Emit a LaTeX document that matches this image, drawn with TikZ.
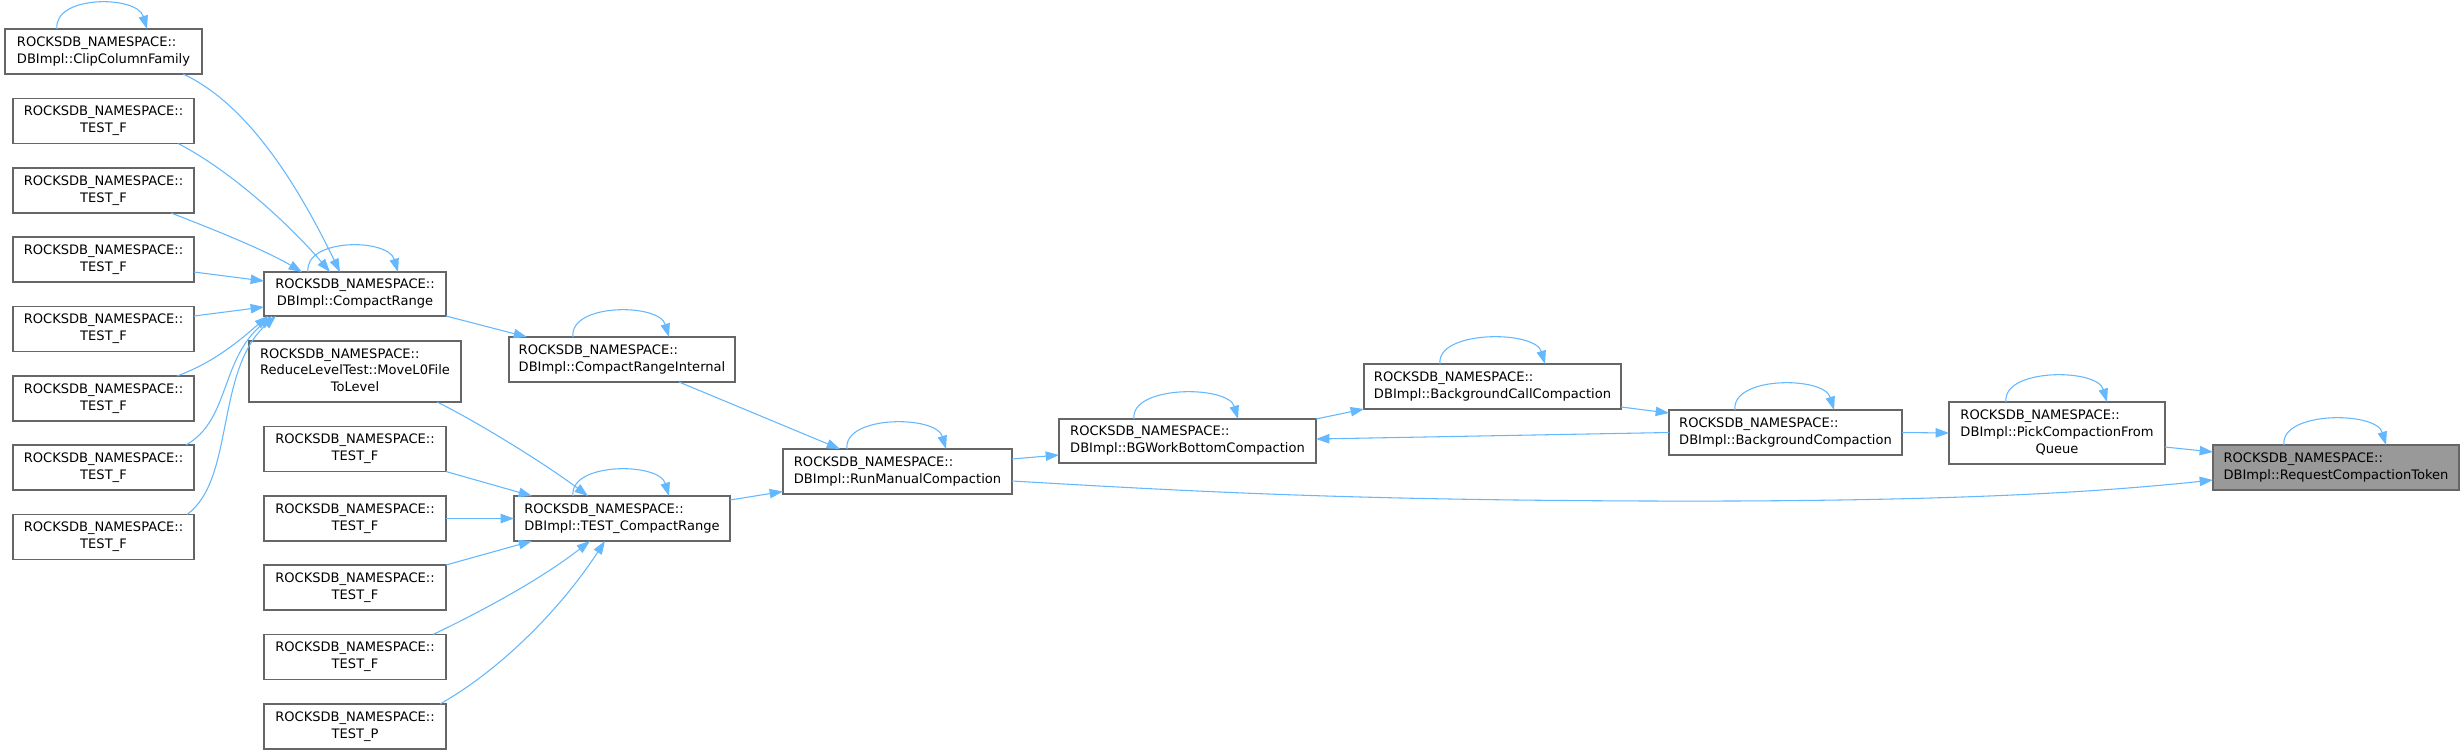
\documentclass[tikz,border=0pt]{standalone}
\usepackage{fontspec}
\setmainfont{DejaVu Sans}
\usetikzlibrary{arrows.meta,calc}
\definecolor{edgec}{HTML}{63B8FF}
\definecolor{boxc}{HTML}{666666}
\definecolor{hlc}{HTML}{999999}
\newcommand\dxl[2]{\begin{tabular}{@{}l@{}}#1\\\multicolumn{1}{@{}c@{}}{#2}\end{tabular}}
\newcommand\dxlt[3]{\begin{tabular}{@{}l@{}}#1\\#2\\\multicolumn{1}{@{}c@{}}{#3}\end{tabular}}
\newcommand\rns{ROCKSDB\_NAMESPACE::}
\newcommand\dxloop[3]{\draw[e] ($(#1.north west)+(#2,0)$) .. controls +(-4,-34) and +(-10,-34) .. ($(#1.north west)+(#3,0)$);}
\begin{document}
\begin{tikzpicture}[x=0.75pt,y=-0.75pt,
  fn/.style={draw=boxc, line width=0.85pt, fill=white, inner sep=0pt, outer sep=0pt,
    font=\fontsize{9.8pt}{12.6pt}\selectfont, text=black},
  sz/.style 2 args={minimum width=#1*0.75pt, minimum height=#2*0.75pt},
  e/.style={draw=edgec, line width=0.8pt, -{Triangle[length=10pt,width=7pt]}}]
\fill[white] (0,0) rectangle (2464,754);
\useasboundingbox (0,0) rectangle (2464,754);

% left column
\node[fn,sz={197}{45}] (clip) at (103.5,51.5) {\dxl{\rns}{DBImpl::ClipColumnFamily}};
\node[fn,sz={181}{45}] (tf1) at (103.5,121) {\dxl{\rns}{TEST\_F}};
\node[fn,sz={181}{45}] (tf2) at (103.5,190.5) {\dxl{\rns}{TEST\_F}};
\node[fn,sz={181}{45}] (tf3) at (103.5,259.5) {\dxl{\rns}{TEST\_F}};
\node[fn,sz={181}{45}] (tf4) at (103.5,329) {\dxl{\rns}{TEST\_F}};
\node[fn,sz={181}{45}] (tf5) at (103.5,398.5) {\dxl{\rns}{TEST\_F}};
\node[fn,sz={181}{45}] (tf6) at (103.5,467.5) {\dxl{\rns}{TEST\_F}};
\node[fn,sz={181}{45}] (tf7) at (103.5,537) {\dxl{\rns}{TEST\_F}};

% second column
\node[fn,sz={182}{44}] (cr) at (355,294) {\dxl{\rns}{DBImpl::CompactRange}};
\node[fn,sz={212}{61}] (rl) at (355,371.5) {\dxlt{\rns}{ReduceLevelTest::MoveL0File}{ToLevel}};
\node[fn,sz={182}{45}] (ta) at (355,449) {\dxl{\rns}{TEST\_F}};
\node[fn,sz={182}{45}] (tb) at (355,518.5) {\dxl{\rns}{TEST\_F}};
\node[fn,sz={182}{45}] (tc) at (355,587.5) {\dxl{\rns}{TEST\_F}};
\node[fn,sz={182}{45}] (td) at (355,657) {\dxl{\rns}{TEST\_F}};
\node[fn,sz={182}{45}] (tp) at (355,726.5) {\dxl{\rns}{TEST\_P}};

% third column
\node[fn,sz={226}{45}] (cri) at (622,359.5) {\dxl{\rns}{DBImpl::CompactRangeInternal}};
\node[fn,sz={216}{45}] (tcr) at (622,518.5) {\dxl{\rns}{DBImpl::TEST\_CompactRange}};

% chain
\node[fn,sz={229}{45}] (rmc) at (897.5,471.5) {\dxl{\rns}{DBImpl::RunManualCompaction}};
\node[fn,sz={257}{44}] (bgw) at (1187.5,441) {\dxl{\rns}{DBImpl::BGWorkBottomCompaction}};
\node[fn,sz={257}{45}] (bcc) at (1492.5,386.5) {\dxl{\rns}{DBImpl::BackgroundCallCompaction}};
\node[fn,sz={233}{45}] (bc) at (1785.5,432.5) {\dxl{\rns}{DBImpl::BackgroundCompaction}};
\node[fn,sz={216}{62}] (pcq) at (2057,433) {\dxlt{\rns}{DBImpl::PickCompactionFrom}{Queue}};
\node[fn,sz={246}{45},fill=hlc] (rct) at (2336,467.5) {\dxl{\rns}{DBImpl::RequestCompactionToken}};

% edges into CompactRange
\draw[e] ($(clip.south west)+(178,0)$) .. controls (250,105) and (300,190) .. ($(cr.north west)+(76,0)$);
\draw[e] ($(tf1.south west)+(165,0)$) .. controls (230,170) and (290,225) .. ($(cr.north west)+(66,0)$);
\draw[e] ($(tf2.south west)+(158,0)$) .. controls (210,228) and (265,250) .. ($(cr.north west)+(38,0)$);
\draw[e] ($(tf3.east)+(0,12.5)$) -- ($(cr.west)+(0,-13)$);
\draw[e] ($(tf4.east)+(0,-13)$) -- ($(cr.west)+(0,13)$);
\draw[e] ($(tf5.north west)+(164,0)$) .. controls (215,362) and (240,340) .. ($(cr.south west)+(4,0)$);
\draw[e] ($(tf6.north west)+(173,0)$) .. controls (230,420) and (220,360) .. ($(cr.south west)+(8,0)$);
\draw[e] ($(tf7.north west)+(174,0)$) .. controls (235,480) and (215,370) .. ($(cr.south west)+(12,0)$);

% edges into TEST_CompactRange
\draw[e] ($(rl.south east)+(-24,0)$) .. controls (470,418) and (540,460) .. ($(tcr.north west)+(74,0)$);
\draw[e] (ta.south east) -- ($(tcr.north west)+(18,0)$);
\draw[e] (tb.east) -- (tcr.west);
\draw[e] (tc.north east) -- ($(tcr.south west)+(18,0)$);
\draw[e] ($(td.north east)+(-13,0)$) .. controls (480,612) and (540,580) .. ($(tcr.south west)+(76,0)$);
\draw[e] ($(tp.north east)+(-6,0)$) .. controls (500,670) and (560,610) .. ($(tcr.south west)+(91,0)$);

% main chain
\draw[e] (cr.south east) -- ($(cri.north west)+(18,0)$);
\draw[e] ($(cri.south west)+(170,0)$) -- ($(rmc.north west)+(57,0)$);
\draw[e] ($(tcr.east)+(0,-18.5)$) -- ($(rmc.west)+(0,20)$);
\draw[e] ($(rmc.east)+(0,-12.5)$) -- ($(bgw.west)+(0,14)$);
\draw[e] ($(rmc.east)+(0,9.5)$) .. controls (1200,492) and (1350,500) .. (1650,501)
   .. controls (1950,502) and (2100,492) .. ($(rct.west)+(0,12.5)$);
\draw[e] (bgw.north east) -- (bcc.south west);
\draw[e] ($(bcc.south east)+(0,-2)$) -- ($(bc.north west)+(0,3)$);
\draw[e] (bc.west) -- ($(bgw.east)+(0,-2)$);
\draw[e] (bc.east) -- (pcq.west);
\draw[e] ($(pcq.east)+(0,14)$) -- ($(rct.west)+(0,-15.5)$);

% self loops
\dxloop{clip}{52}{142}
\dxloop{cr}{44}{134}
\dxloop{cri}{64}{160}
\dxloop{tcr}{59}{155}
\dxloop{rmc}{64}{163}
\dxloop{bgw}{75}{179}
\dxloop{bcc}{76}{181}
\dxloop{bc}{66}{165}
\dxloop{pcq}{57}{158}
\dxloop{rct}{71}{173}
\end{tikzpicture}
\end{document}
